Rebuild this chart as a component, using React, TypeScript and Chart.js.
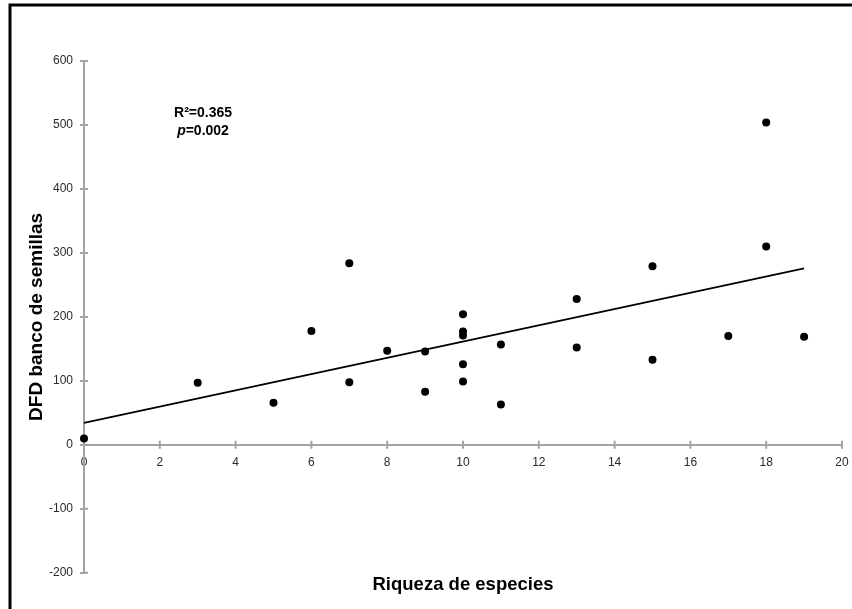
import React, { useEffect, useRef } from 'react';
import { Chart, registerables } from 'chart.js';

Chart.register(...registerables);

// Species richness per plot and seed-bank functional diversity (DFD)
const riqueza = [0, 3, 5, 6, 7, 7, 8, 9, 9, 10, 10, 10, 10, 10, 11, 11, 13, 13, 15, 15, 17, 18, 18, 19];
const dfd = [10, 97, 66, 178, 284, 98, 147, 146, 83, 204, 177, 171, 126, 99, 157, 63, 228, 152, 279, 133, 170, 504, 310, 169];

const xTickValues = [0, 2, 4, 6, 8, 10, 12, 14, 16, 18, 20];
const yTickValues = [-200, -100, 0, 100, 200, 300, 400, 500, 600];

const rSquared = 0.365;
const pValue = 0.002;

const xTitle = 'Riqueza de especies';
const yTitle = 'DFD banco de semillas';

const FONT = "'Liberation Sans', Arial, Helvetica, sans-serif";
const AXIS_GREY = '#a3a3a3';
const TICK_HALF = 4;

// Ordinary least-squares fit of DFD on richness
function leastSquares(xs: number[], ys: number[]) {
  const n = xs.length;
  const mx = xs.reduce((a, b) => a + b, 0) / n;
  const my = ys.reduce((a, b) => a + b, 0) / n;
  let sxy = 0;
  let sxx = 0;
  for (let i = 0; i < n; i++) {
    sxy += (xs[i] - mx) * (ys[i] - my);
    sxx += (xs[i] - mx) * (xs[i] - mx);
  }
  const slope = sxy / sxx;
  return { slope, intercept: my - slope * mx };
}

const decorations = {
  id: 'decorations',
  beforeDraw(chart: any) {
    const { ctx } = chart;
    ctx.save();
    ctx.fillStyle = '#ffffff';
    ctx.fillRect(0, 0, chart.width, chart.height);
    ctx.strokeStyle = '#000000';
    ctx.lineWidth = 3;
    ctx.strokeRect(10, 5, chart.width + 20, chart.height + 20);
    ctx.restore();
  },
  beforeDatasetsDraw(chart: any) {
    // tick marks cross the axis lines
    const { ctx } = chart;
    const xs = chart.scales.x;
    const ys = chart.scales.y;
    const y0 = ys.getPixelForValue(0);
    const x0 = xs.getPixelForValue(0);
    ctx.save();
    ctx.strokeStyle = AXIS_GREY;
    ctx.lineWidth = 2;
    ctx.beginPath();
    xs.ticks.forEach((t: any) => {
      const px = xs.getPixelForValue(t.value);
      ctx.moveTo(px, y0 - TICK_HALF);
      ctx.lineTo(px, y0 + TICK_HALF);
    });
    ys.ticks.forEach((t: any) => {
      const py = ys.getPixelForValue(t.value);
      ctx.moveTo(x0, py);
      ctx.lineTo(x0 + TICK_HALF, py);
    });
    ctx.stroke();
    ctx.restore();
  },
  afterDraw(chart: any) {
    const { ctx } = chart;
    const xs = chart.scales.x;
    const ys = chart.scales.y;
    const cx = xs.getPixelForValue(3.14);
    const y1 = ys.getPixelForValue(518);
    const y2 = ys.getPixelForValue(491);
    ctx.save();
    ctx.fillStyle = '#000000';
    ctx.textBaseline = 'middle';
    ctx.font = `bold 14px ${FONT}`;
    ctx.textAlign = 'center';
    ctx.fillText(`R²=${rSquared.toFixed(3)}`, cx, y1);

    ctx.textAlign = 'left';
    ctx.font = `italic bold 14px ${FONT}`;
    const pW = ctx.measureText('p').width;
    ctx.font = `bold 14px ${FONT}`;
    const rest = `=${pValue.toFixed(3)}`;
    const restW = ctx.measureText(rest).width;
    const start = cx - (pW + restW) / 2;
    ctx.font = `italic bold 14px ${FONT}`;
    ctx.fillText('p', start, y2);
    ctx.font = `bold 14px ${FONT}`;
    ctx.fillText(rest, start + pW, y2);
    ctx.restore();
  },
};

export default function App() {
  const canvasRef = useRef<HTMLCanvasElement | null>(null);

  useEffect(() => {
    if (!canvasRef.current) return;
    const points = riqueza.map((x, i) => ({ x, y: dfd[i] }));
    const { slope, intercept } = leastSquares(riqueza, dfd);
    const xMin = Math.min(...riqueza);
    const xMax = Math.max(...riqueza);
    const fit = [
      { x: xMin, y: intercept + slope * xMin },
      { x: xMax, y: intercept + slope * xMax },
    ];

    const chart = new Chart(canvasRef.current, {
      type: 'scatter',
      data: {
        datasets: [
          {
            type: 'line',
            data: fit,
            borderColor: '#000000',
            borderWidth: 1.8,
            pointRadius: 0,
            fill: false,
            clip: false,
            order: 2,
          } as any,
          {
            data: points,
            backgroundColor: '#000000',
            borderColor: '#000000',
            pointRadius: 4,
            pointBorderWidth: 0,
            clip: false,
            order: 1,
          } as any,
        ],
      },
      plugins: [decorations],
      options: {
        animation: false,
        responsive: false,
        devicePixelRatio: 1,
        layout: { autoPadding: false, padding: { left: 0, top: 61, right: 10, bottom: 0 } },
        plugins: {
          legend: { display: false },
          tooltip: { enabled: false },
          title: {
            display: true,
            position: 'bottom',
            fullSize: false,
            text: xTitle,
            color: '#000000',
            font: { family: FONT, size: 18.5, weight: 'bold' },
            padding: { top: 1, bottom: 13 },
          },
        },
        scales: {
          x: {
            type: 'linear',
            position: { y: 0 } as any,
            min: 0,
            max: 20,
            afterBuildTicks: (s: any) => {
              s.ticks = xTickValues.map((v) => ({ value: v }));
            },
            ticks: {
              color: '#2a2a2a',
              font: { family: FONT, size: 12 },
              padding: 3,
              maxRotation: 0,
            },
            grid: {
              drawOnChartArea: false,
              color: AXIS_GREY,
              tickColor: 'rgba(0,0,0,0)',
              lineWidth: 2,
              tickLength: 8,
            },
            border: { color: AXIS_GREY, width: 2 },
          },
          y: {
            type: 'linear',
            position: 'left',
            min: -200,
            max: 600,
            afterBuildTicks: (s: any) => {
              s.ticks = yTickValues.map((v) => ({ value: v }));
            },
            afterFit: (s: any) => {
              s.width = 84;
            },
            ticks: {
              color: '#2a2a2a',
              font: { family: FONT, size: 12 },
              padding: 7,
            },
            grid: {
              drawOnChartArea: false,
              color: AXIS_GREY,
              lineWidth: 2,
              tickLength: TICK_HALF,
            },
            border: { color: AXIS_GREY, width: 2 },
            title: {
              display: true,
              text: yTitle,
              color: '#000000',
              font: { family: FONT, size: 19, weight: 'bold' },
              padding: { top: 25, bottom: 0 },
            },
          },
        },
      },
    });
    return () => chart.destroy();
  }, []);

  return (
    <div style={{ position: 'fixed', left: 0, top: 0, width: 852, height: 609, background: '#fff' }}>
      <canvas ref={canvasRef} width={852} height={609} style={{ display: 'block' }} />
    </div>
  );
}
